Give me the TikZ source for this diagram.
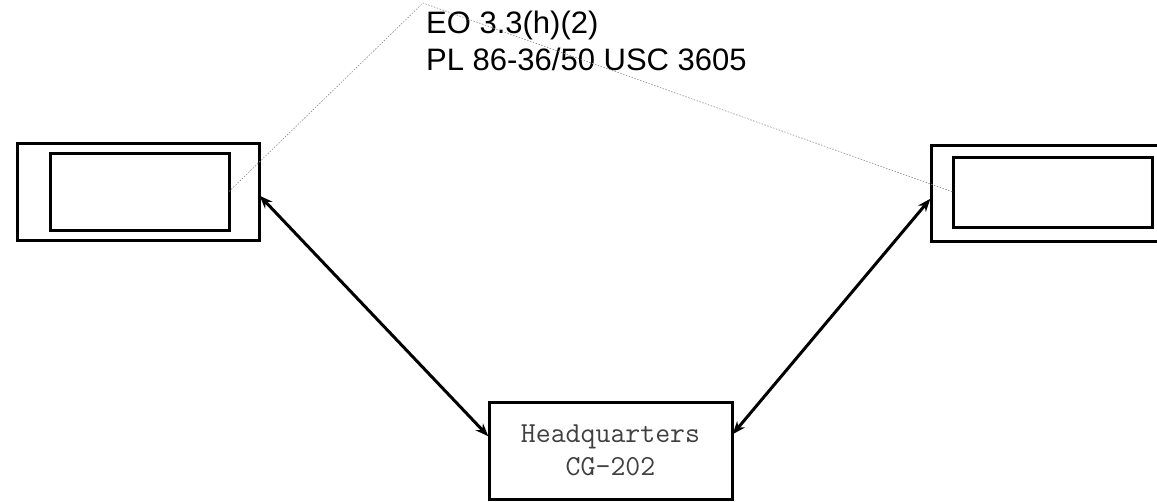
\documentclass[tikz,border=0pt]{standalone}
\usepackage{fontspec}
\setmainfont{Liberation Sans}
\usetikzlibrary{calc,arrows.meta}
\tikzset{
  boxline/.style={draw=black, line width=3pt, inner sep=0pt, outer sep=0pt, fill=none},
  conn/.style={line width=3pt, {Stealth[length=13pt,width=10pt]}-{Stealth[length=13pt,width=10pt]}, shorten <=1pt, shorten >=1pt},
  leader/.style={draw=black!45, line width=0.6pt, dash pattern=on 1.5pt off 1.5pt},
  label/.style={font=\fontsize{31}{37}\selectfont, inner sep=0pt, anchor=base west},
}
\begin{document}
\begin{tikzpicture}[x=1pt, y=-1pt]
\useasboundingbox (0,0) rectangle (1157,501);
\begin{scope}
\clip (0,0) rectangle (1157,501);
% left box
\node[boxline, minimum width=242pt, minimum height=97pt] (Lout) at (138,191.5) {};
\node[boxline, minimum width=179pt, minimum height=77pt] (Lin) at (139.5,191.5) {};
% right box (runs off the right edge)
\node[boxline, minimum width=231pt, minimum height=96pt] (Rout) at (1046.5,193) {};
\node[boxline, minimum width=199pt, minimum height=70pt] (Rin) at (1052.5,192) {};
% bottom box
\node[boxline, minimum width=243pt, minimum height=97pt,
      font=\ttfamily\fontsize{29}{33}\selectfont, text=black!75, align=center] (HQ) at (610.5,450.5)
      {Headquarters\\CG-202};
% labels
\node[label] (t1) at (426,33) {EO 3.3(h)(2)};
\node[label] (t2) at (426,70) {PL 86-36/50 USC 3605};
\coordinate (apex) at (423,3);
% leader lines
\draw[leader] (Lin.east) -- (apex) -- (Rin.west);
% connectors
\draw[conn] ($(Lout.east)+(0,3.5)$) -- ($(HQ.west)+(0,-13.5)$);
\draw[conn] ($(HQ.east)+(0,-15.5)$) -- ($(Rout.west)+(0,5)$);
\end{scope}
\end{tikzpicture}
\end{document}
